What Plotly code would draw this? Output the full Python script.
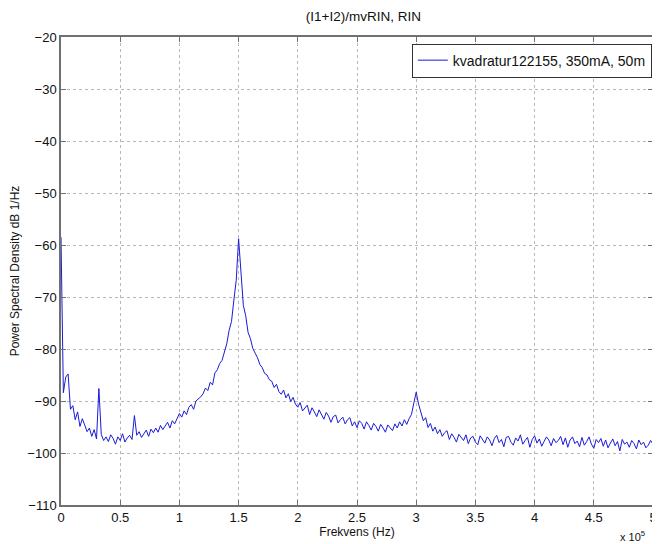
import numpy as np
import plotly.graph_objects as go

# Frequency bins in units of 1e5 Hz (0 .. 5, step 0.02)
freq_e5 = np.linspace(0, 5, 251)

# PSD values (dB 1/Hz), 10 per row (each row spans 0.2e5 Hz)
psd_db = [
    -58.5, -88.4, -85.4, -84.8, -91.6, -90.9, -93.6, -92.1, -94.9, -93.4,
    -94.6, -95.9, -95.2, -96.8, -95.5, -97.3, -87.6, -96.4, -97.6, -96.9,
    -97.8, -96.5, -97.2, -98.3, -96.9, -97.6, -96.3, -97.9, -97.1, -96.6,
    -97.4, -92.8, -96.6, -95.9, -97.0, -96.2, -95.6, -96.8, -95.4, -96.1,
    -95.2, -96.0, -94.7, -95.5, -94.9, -94.1, -95.2, -93.8, -94.4, -93.5,
    -92.4, -93.1, -91.9, -92.6, -91.2, -90.7, -91.6, -90.0, -89.6, -89.2,
    -88.6, -87.5, -88.0, -86.4, -86.9, -84.6, -84.0, -82.8, -82.2, -80.4,
    -79.0, -76.4, -74.7, -70.6, -66.8, -58.8, -65.6, -71.6, -73.6, -76.8,
    -78.0, -79.9, -80.8, -81.7, -83.0, -83.6, -84.7, -85.0, -85.9, -86.2,
    -87.4, -86.8, -88.2, -88.7, -87.9, -89.4, -88.6, -90.1, -89.3, -90.6,
    -91.2, -90.3, -91.9, -91.4, -90.8, -92.6, -91.3, -92.1, -93.0, -91.7,
    -92.6, -93.5, -92.2, -92.9, -94.1, -93.0, -92.7, -94.2, -93.6, -93.1,
    -94.4, -93.6, -93.2, -94.8, -94.0, -95.1, -93.8, -94.3, -95.4, -94.0,
    -94.7, -95.6, -94.3, -94.9, -95.8, -94.5, -95.2, -96.0, -94.6, -95.1,
    -95.7, -94.4, -95.2, -94.0, -94.8, -93.6, -94.5, -93.4, -92.6, -90.4,
    -88.3, -90.6, -92.4, -93.8, -93.2, -95.1, -94.3, -95.8, -95.0, -96.3,
    -95.5, -96.8, -96.1, -95.7, -97.4, -96.3, -97.0, -97.9, -96.4, -96.9,
    -97.6, -96.5, -98.2, -97.1, -96.8, -97.9, -98.4, -96.7, -97.3, -98.1,
    -96.9, -97.5, -98.6, -97.2, -96.6, -98.0, -97.4, -98.8, -97.0, -96.8,
    -97.9, -98.5, -97.1, -97.7, -96.5, -98.3, -97.6, -97.0, -98.9, -97.4,
    -96.7, -98.1, -97.3, -98.7, -97.8, -96.9, -97.5, -98.6, -97.2, -98.0,
    -97.6, -96.8, -98.4, -97.1, -98.9, -97.5, -96.9, -98.2, -97.7, -98.8,
    -97.0, -98.5, -97.8, -96.9, -98.3, -99.1, -97.4, -98.0, -97.2, -98.7,
    -97.5, -99.0, -98.1, -97.3, -98.6, -97.8, -99.6, -97.4, -98.3, -97.9,
    -98.9, -97.6, -98.2, -99.2, -97.5, -98.4, -97.9, -99.0, -98.5, -97.6,
    -98.3,
]

x_ticks = [0, 0.5, 1, 1.5, 2, 2.5, 3, 3.5, 4, 4.5, 5]
x_tick_labels = ["0", "0.5", "1", "1.5", "2", "2.5", "3", "3.5", "4", "4.5", "5"]
y_ticks = [-20, -30, -40, -50, -60, -70, -80, -90, -100, -110]

series_name = "kvadratur122155, 350mA, 50m"
title_text = "(I1+I2)/mvRIN, RIN"
x_title = "Frekvens (Hz)"
y_title = "Power Spectral Density dB 1/Hz"

FONT = "Liberation Sans, Arial, sans-serif"

fig = go.Figure()
fig.add_trace(go.Scatter(
    x=freq_e5, y=psd_db, mode="lines", name=series_name,
    line=dict(color="#1a1ad8", width=1),
))

axis_common = dict(
    showline=True, linecolor="#707070", linewidth=1.5, mirror="ticks",
    ticks="inside", ticklen=5, tickcolor="#707070",
    showgrid=True, gridcolor="#b8b8b8", griddash="dot", gridwidth=1,
    zeroline=False, ticklabeloverflow="allow",
    tickfont=dict(family=FONT, size=13, color="#111111"),
)

# page body has an 8px margin, so the figure is sized 8px smaller
fig.update_layout(
    width=652, height=536,
    margin=dict(l=53, r=3, t=29, b=39),
    paper_bgcolor="white", plot_bgcolor="white",
    font=dict(family=FONT, size=12, color="#111111"),
    title=dict(text=title_text, x=0.545, xanchor="center", y=0.985, yanchor="middle",
               font=dict(family=FONT, size=13.5)),
    xaxis=dict(range=[0, 5], tickvals=x_ticks, ticktext=x_tick_labels,
               title=dict(text=x_title, standoff=3, font=dict(size=12)), **axis_common),
    yaxis=dict(range=[-110, -20], tickvals=y_ticks,
               title=dict(text=y_title, standoff=5, font=dict(size=12)), **axis_common),
    showlegend=True,
    legend=dict(x=0.998, xanchor="right", y=0.986, yanchor="top",
                bgcolor="white", bordercolor="#333333", borderwidth=1,
                font=dict(family=FONT, size=14), itemwidth=30,
                tracegroupgap=0),
)

fig.add_annotation(
    text="x 10<sup>5</sup>", xref="paper", yref="paper",
    x=0.99, y=-0.048, xanchor="right", yanchor="top", showarrow=False,
    font=dict(family=FONT, size=11),
)

fig.write_html("out.html")
